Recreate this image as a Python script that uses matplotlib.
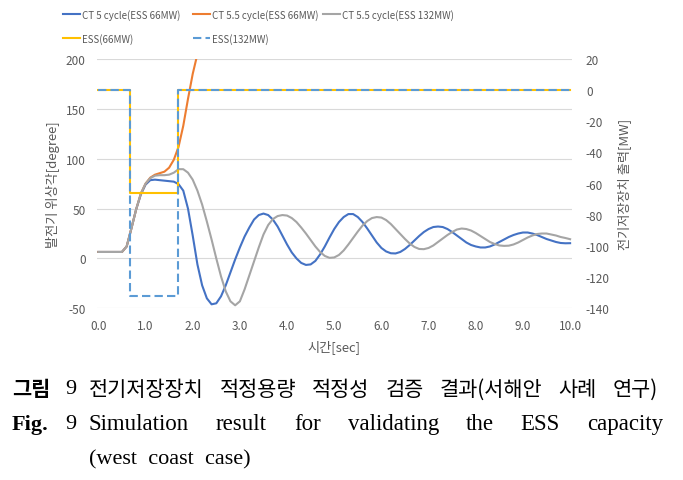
import matplotlib
matplotlib.use("Agg")
import matplotlib.pyplot as plt
import numpy as np

plt.rcParams["font.family"] = ["Noto Sans CJK KR", "DejaVu Sans"]
plt.rcParams["axes.unicode_minus"] = False

# time axis [sec]
t = np.round(np.arange(0, 10.01, 0.1), 1)

# rotor angle [degree], every 0.1 s
ct5_66 = [
    6.5, 6.5, 6.5, 6.5, 6.5, 6.5, 12, 30, 49, 64,
    74, 78.5, 79, 78.5, 78, 77.5, 77, 74.5, 68, 50,
    23, -6, -27, -40, -46, -45, -38, -27, -14, -1,
    11, 22, 31, 39, 43.5, 45, 43.5, 39, 32, 23,
    14, 6, 0, -4.5, -6.5, -6, -2.5, 4, 12, 21,
    29.5, 36.5, 41.5, 44.5, 44.5, 41.5, 36.5, 30, 23, 16,
    10.5, 7, 5.2, 5, 6.5, 9.5, 13.5, 18, 22.5, 26.5,
    29.5, 31.5, 32, 31.5, 29.5, 26.5, 23, 19.5, 16, 13.5,
    12, 11, 11, 12, 14, 16.5, 19, 21.5, 23.5, 25,
    26, 26, 25, 23.5, 21.5, 19.5, 18, 16.5, 15.5, 15.2,
    15.3,
]
ct55_132 = [
    6.5, 6.5, 6.5, 6.5, 6.5, 6.5, 12, 30, 49, 65,
    75, 80.5, 83, 83.5, 83.5, 84, 86, 89.5, 89.5, 86,
    79, 68, 54, 37, 19, 0, -18, -33, -43, -47,
    -43, -31, -17, -3, 11, 24, 33.5, 39.5, 42.5, 43.5,
    43, 40.5, 36.5, 31, 25, 18.5, 12, 6.5, 2.5, 0.6,
    1, 3.5, 8, 14, 20.5, 27, 33, 37.5, 40.5, 41.5,
    41, 38.5, 34.5, 29.5, 24.5, 19.5, 15, 11.5, 9.5, 9.3,
    10.5, 13, 16.5, 20, 23.5, 26.5, 29, 30, 29.5, 28,
    25.5, 22.5, 19.5, 16.5, 14.5, 13, 12.6, 12.8, 14, 16,
    18.5, 21, 23, 24.5, 25, 25, 24, 23, 21.5, 20.5,
    19.3,
]
# CT 5.5 cycle with 66MW diverges, only the visible part
t_or = t[:23]
ct55_66 = [
    6.5, 6.5, 6.5, 6.5, 6.5, 6.5, 12, 30, 49, 65,
    75, 81, 84, 85.5, 87, 91, 99, 112, 133, 160,
    185, 205, 230,
]

# ESS output [MW]
ess_t = [0, 0.68, 0.68, 1.69, 1.69, 10]
ess66 = [0, 0, -66, -66, 0, 0]
ess132 = [0, 0, -132, -132, 0, 0]

W, H = 683, 481
TXT = "#595959"

fig = plt.figure(figsize=(W / 100, H / 100), dpi=100)
ax = fig.add_axes([96.7 / W, 1 - 309.3 / H, (572 - 96.7) / W, 249.3 / H])
ax2 = ax.twinx()

l1, = ax.plot(t, ct5_66, color="#4472C4", lw=1.5, label="CT 5 cycle(ESS 66MW)")
l2, = ax.plot(t_or, ct55_66, color="#ED7D31", lw=1.5, label="CT 5.5 cycle(ESS 66MW)")
l3, = ax.plot(t, ct55_132, color="#A5A5A5", lw=1.5, label="CT 5.5 cycle(ESS 132MW)")
l4, = ax2.plot(ess_t, ess66, color="#FFC000", lw=1.5, label="ESS(66MW)")
l5, = ax2.plot(ess_t, ess132, color="#5B9BD5", lw=1.5, ls=(0, (4, 2)), label="ESS(132MW)")

ax.set_xlim(-0.035, 10.04)
ax.set_ylim(-50, 200)
ax2.set_ylim(-140, 20)
ax.set_xticks(np.arange(0, 10.1, 1.0))
ax.set_xticklabels([f"{v:.1f}" for v in np.arange(0, 10.1, 1.0)])
ax.set_yticks(range(-50, 201, 50))
ax2.set_yticks(range(-140, 21, 20))
ax.grid(axis="y", color="#D9D9D9", lw=0.8)
ax.set_axisbelow(True)
for a in (ax, ax2):
    for s in a.spines.values():
        s.set_visible(False)
ax.tick_params(axis="x", length=0, pad=8, labelsize=8.5, labelcolor=TXT)
ax.tick_params(axis="y", length=0, pad=8, labelsize=8.5, labelcolor=TXT)
ax2.tick_params(axis="y", length=0, pad=10, labelsize=8.5, labelcolor=TXT)

ax.set_xlabel("시간[sec]", fontsize=9.5, color=TXT, labelpad=5)
ax.set_ylabel("발전기 위상각[degree]", fontsize=9.5, color=TXT, labelpad=4)
ax2.set_ylabel("전기저장장치 출력[MW]", fontsize=9.5, color=TXT, labelpad=5)

# legend: Excel puts the entries in fixed-width columns
cols = [([l1, l4], 63), ([l2, l5], 193), ([l3], 323)]
for hs, x in cols:
    fig.legend(handles=hs, loc="upper left", bbox_to_anchor=(x / W, 1 - 10 / H),
               frameon=False, fontsize=7, handlelength=1.75, handletextpad=0.25,
               labelspacing=1.3, borderpad=0, borderaxespad=0, labelcolor=TXT)

# caption
serif = ["Liberation Serif", "Noto Sans CJK KR"]
fig.text(12 / W, 1 - 390 / H, "그림", fontsize=15, weight="bold", va="center")
fig.text(65 / W, 1 - 390 / H, "9", fontsize=16, family=serif, va="center")
fig.text(12 / W, 1 - 425 / H, "Fig.", fontsize=16, weight="bold", family=serif, va="center")
fig.text(65 / W, 1 - 425 / H, "9", fontsize=16, family=serif, va="center")
fig.text(89 / W, 1 - 460 / H, "(west  coast  case)", fontsize=16, family=serif, va="center")

fig.canvas.draw()
r = fig.canvas.get_renderer()


def justify(text, y, x0, x1, **kw):
    words = text.split()
    arts = [fig.text(0, 1 - y / H, w, va="center", **kw) for w in words]
    widths = [a.get_window_extent(r).width for a in arts]
    gap = (x1 - x0 - sum(widths)) / (len(words) - 1)
    x = x0
    for a, w in zip(arts, widths):
        a.set_x(x / W)
        x += w + gap


justify("전기저장장치 적정용량 적정성 검증 결과(서해안 사례 연구)", 390, 89, 658, fontsize=15)
justify("Simulation result for validating the ESS capacity", 425, 89, 663,
        fontsize=16.5, family=serif)

fig.savefig("out.png", dpi=100)
